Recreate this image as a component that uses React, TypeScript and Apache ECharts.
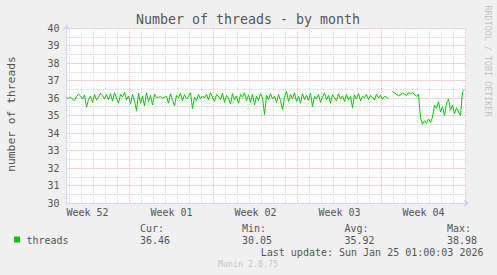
import React, { useEffect, useRef } from "react";
import * as echarts from "echarts";

// ---- data ----
const titleText = "Number of threads - by month";
const yAxisTitle = "number of threads";
const seriesName = "threads";
// x is in days since Monday of Week 01 (start of week 01 = 0)
const startDay = -5.25;
const stepDay = 1 / 6; // 4-hour samples
const threads: (number | null)[] = [
  36.02, 35.98, 36.05, 35.92, 35.85, 36.08, 36.22, 36.12, 35.95, 36.18,
  35.48, 35.92, 36.1, 35.75, 36.2, 35.88, 36.05, 36.28, 36.15, 35.95,
  36.2, 35.9, 36.25, 35.82, 36.3, 36.0, 35.7, 36.22, 36.05, 36.32,
  35.9, 36.12, 35.65, 36.2, 35.85, 35.25, 36.28, 35.7, 36.1, 35.55,
  36.3, 35.8, 36.15, 35.6, 36.22, 36.02, 36.05, 36.08, 36.0, 36.05,
  36.1, 35.7, 36.25, 35.9, 35.55, 36.15, 36.0, 36.28, 35.85, 36.2,
  35.95, 36.1, 36.3, 35.4, 36.05, 35.85, 36.2, 35.95, 36.12, 36.0,
  36.22, 35.9, 36.3, 36.05, 35.8, 36.2, 36.1, 35.92, 36.28, 35.75,
  36.15, 36.0, 35.65, 36.25, 35.9, 36.12, 35.7, 36.2, 36.05, 36.3,
  35.85, 36.18, 35.75, 36.22, 35.6, 36.1, 35.85, 36.25, 36.0, 35.05,
  36.15, 35.9, 36.25, 35.95, 36.1, 35.75, 36.2, 35.85, 35.35, 36.05,
  36.38, 35.8, 36.2, 35.95, 36.3, 35.8, 36.1, 35.7, 36.25, 35.9,
  36.15, 35.85, 36.28, 35.5, 36.1, 35.95, 36.2, 35.75, 36.05, 36.3,
  35.9, 36.15, 35.7, 36.2, 36.0, 35.85, 36.25, 35.95, 36.12, 35.8,
  36.2, 35.9, 36.1, 35.45, 36.18, 35.95, 36.25, 35.85, 36.1, 36.02,
  36.2, 35.9, 36.15, 36.05, 35.88, 36.22, 36.0, 36.15, 35.92, 36.1,
  36.05, 35.95, null, 36.38, 36.3, 36.2, 36.12, 36.18, 36.28, 36.22,
  36.15, 36.3, 36.25, 36.32, 36.18, 36.1, 36.2, 34.9, 34.5, 34.7,
  34.55, 34.8, 34.6, 34.9, 35.6, 35.4, 35.8, 35.2, 35.5, 35.0,
  35.7, 35.95, 35.3, 35.6, 35.1, 35.45, 35.2, 35.0, 36.35, 36.46,
];
const xMin = -5.25;
const xMax = 28;
const yMin = 30;
const yMax = 40;
const weekLabelDays = [-3.5, 3.5, 10.5, 17.5, 24.5];
const weekLabels = ["Week 52", "Week 01", "Week 02", "Week 03", "Week 04"];
const weekBoundaryDays = [0, 7, 14, 21, 28];
const dayLineDays = [
  -5, -4, -3, -2, -1, 1, 2, 3, 4, 5, 6, 8, 9, 10, 11, 12, 13, 15, 16, 17, 18,
  19, 20, 22, 23, 24, 25, 26, 27,
];
const statLabels = ["Cur:", "Min:", "Avg:", "Max:"];
const statValues = ["36.46", "30.05", "35.92", "38.98"];
const lastUpdate = "Last update: Sun Jan 25 01:00:03 2026";
const watermark = "Munin 2.0.75";
const sideText = "RRDTOOL / TOBI OETIKER";

const MONO = '"DejaVu Sans Mono", monospace';
const FONT_COLOR = "#555555";
const MAJOR = "#e6a6a6";
const MINOR = "#d2d2d2";
const VMAJOR = "#eebcbc";
const VMINOR = "#dcdcdc";
const AXIS = "#cfd6f8";
const GREEN = "#00cc00";

export default function App() {
  const ref = useRef<HTMLDivElement>(null);
  useEffect(() => {
    if (!ref.current) return;
    const chart = echarts.init(ref.current, undefined, { renderer: "svg" });
    const data = threads.map((v, i) => [startDay + i * stepDay, v]);
    const statX = [140, 242, 344.5, 447];
    const txt = (
      text: string,
      x: number,
      y: number,
      size: number,
      color: string,
      align = "left",
      rotation = 0
    ) => ({
      type: "text",
      x,
      y,
      rotation,
      silent: true,
      style: {
        text,
        font: `${size}px ${MONO}`,
        fill: color,
        align,
        textAlign: align,
        verticalAlign: "middle",
        textVerticalAlign: "middle",
      },
    });
    chart.setOption({
      animation: false,
      backgroundColor: "#f0f0f0",
      grid: {
        left: 66.5,
        top: 28,
        width: 399,
        height: 175,
        show: true,
        backgroundColor: "#ffffff",
        borderWidth: 0,
      },
      xAxis: {
        type: "value",
        min: xMin,
        max: xMax,
        axisLine: {
          show: true,
          onZero: false,
          symbol: ["none", "arrow"],
          symbolSize: [6, 6],
          symbolOffset: [0, 4],
          lineStyle: { color: AXIS, width: 1 },
        },
        axisTick: { show: false },
        splitLine: { show: false },
        axisLabel: {
          customValues: weekLabelDays,
          formatter: (v: number) => {
            const k = weekLabelDays.findIndex((d) => Math.abs(d - v) < 1e-6);
            return k >= 0 ? weekLabels[k] : "";
          },
          color: FONT_COLOR,
          fontFamily: MONO,
          fontSize: 10,
          margin: 4,
          showMinLabel: true,
          showMaxLabel: true,
        },
      },
      yAxis: {
        type: "value",
        min: yMin,
        max: yMax,
        interval: 1,
        axisLine: {
          show: true,
          onZero: false,
          symbol: ["none", "arrow"],
          symbolSize: [6, 6],
          symbolOffset: [0, 4],
          lineStyle: { color: AXIS, width: 1 },
        },
        axisTick: { show: false },
        axisLabel: {
          color: FONT_COLOR,
          fontFamily: MONO,
          fontSize: 10,
          margin: 7,
        },
        splitLine: {
          show: true,
          lineStyle: { color: MAJOR, type: [1, 1], width: 1 },
        },
        minorTick: { show: false, splitNumber: 2 },
        minorSplitLine: {
          show: true,
          lineStyle: { color: MINOR, type: [1, 1], width: 1 },
        },
      },
      series: [
        {
          name: seriesName,
          type: "line",
          data,
          showSymbol: false,
          connectNulls: false,
          z: 3,
          lineStyle: { color: GREEN, width: 1 },
          itemStyle: { color: GREEN },
          markLine: {
            z: 1,
            silent: true,
            symbol: ["none", "none"],
            label: { show: false },
            emphasis: { disabled: true },
            data: [
              ...dayLineDays.map((d) => ({
                xAxis: d,
                lineStyle: { color: VMINOR, type: [1, 1], width: 1 },
              })),
              ...weekBoundaryDays.map((d) => ({
                xAxis: d,
                lineStyle: { color: VMAJOR, type: [1, 1], width: 1 },
              })),
            ],
          },
        },
      ],
      graphic: [
        txt(titleText, 248, 19, 13.3, FONT_COLOR, "center"),
        txt(yAxisTitle, 11, 114, 11.3, FONT_COLOR, "center", Math.PI / 2),
        txt(sideText, 488, 61, 8.4, "#c4c4c4", "center", -Math.PI / 2),
        {
          type: "rect",
          silent: true,
          shape: { x: 14, y: 236.5, width: 6, height: 6 },
          style: { fill: GREEN },
        },
        txt(seriesName, 26.5, 240, 10, FONT_COLOR, "left"),
        ...statLabels.map((s, i) => txt(s, statX[i], 228, 10, FONT_COLOR, "left")),
        ...statValues.map((s, i) => txt(s, statX[i], 240, 10, FONT_COLOR, "left")),
        txt(lastUpdate, 483.5, 252, 10, FONT_COLOR, "right"),
        txt(watermark, 248, 264, 8.3, "#c8c8c8", "center"),
      ],
    });
    return () => chart.dispose();
  }, []);
  return (
    <div
      ref={ref}
      style={{ position: "absolute", left: 0, top: 0, width: 497, height: 275 }}
    />
  );
}
